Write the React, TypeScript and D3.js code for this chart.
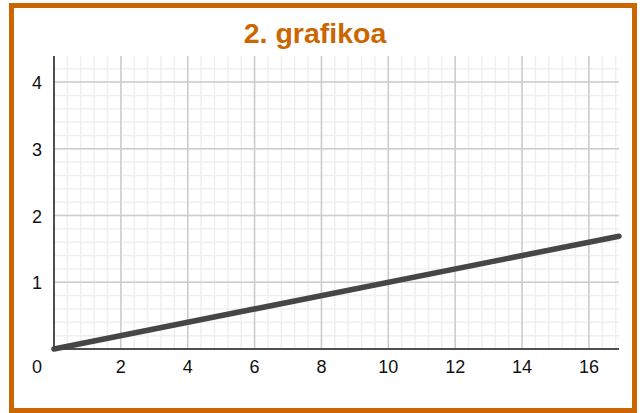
import * as d3 from "d3";
import type { ReactElement } from "react";

const W = 642;
const H = 413;

const title = "2. grafikoa";
const xTicks = [2, 4, 6, 8, 10, 12, 14, 16];
const yTicks = [1, 2, 3, 4];
const lineX = [0, 16.9];
const lineY = [0, 1.69];

const M = { left: 54, right: 619, top: 56, bottom: 349 };

export default function App(): ReactElement {
  const x = d3.scaleLinear().domain([0, 16.9]).range([M.left, M.right]);
  const y = d3.scaleLinear().domain([0, 4.39]).range([M.bottom, M.top]);

  const minorX = d3.range(0, 16.9, 0.4);
  const minorY = d3.range(0, 4.39, 0.2);
  const majorX = d3.range(0, 16.9, 2);
  const majorY = d3.range(0, 4.39, 1);

  const pts: Array<[number, number]> = lineX.map((v, i) => [v, lineY[i]]);
  const path = d3
    .line<[number, number]>()
    .x((d) => x(d[0]))
    .y((d) => y(d[1]))(pts);

  const font = "Arial, 'Liberation Sans', sans-serif";

  return (
    <svg
      width={W}
      height={H}
      style={{ position: "absolute", left: 0, top: 0, background: "#fff" }}
    >
      <rect x={11.5} y={5.5} width={623} height={405} fill="#fff" stroke="#cc6600" strokeWidth={5} />
      <text
        x={315}
        y={43}
        textAnchor="middle"
        fill="#cc6600"
        fontFamily={font}
        fontWeight="bold"
        fontSize={28.5}
      >
        {title}
      </text>

      <g>
        {minorX.map((v) => (
          <line key={`mx${v}`} x1={x(v)} x2={x(v)} y1={M.top} y2={M.bottom} stroke="#efefef" strokeWidth={1.5} />
        ))}
        {minorY.map((v) => (
          <line key={`my${v}`} x1={M.left} x2={M.right} y1={y(v)} y2={y(v)} stroke="#efefef" strokeWidth={1.5} />
        ))}
        {majorX.map((v) => (
          <line key={`Mx${v}`} x1={x(v)} x2={x(v)} y1={M.top} y2={M.bottom} stroke="#cccccc" strokeWidth={1.5} />
        ))}
        {majorY.map((v) => (
          <line key={`My${v}`} x1={M.left} x2={M.right} y1={y(v)} y2={y(v)} stroke="#cccccc" strokeWidth={1.5} />
        ))}
      </g>

      <line x1={M.left} x2={M.left} y1={M.top} y2={M.bottom} stroke="#222" strokeWidth={1.5} />
      <line x1={M.left} x2={M.right} y1={M.bottom} y2={M.bottom} stroke="#222" strokeWidth={1.5} />

      <path d={path ?? ""} fill="none" stroke="#464646" strokeWidth={5.5} strokeLinecap="round" />

      <g fontFamily={font} fontSize={18} fill="#111">
        <text x={37} y={y(0) + 24} textAnchor="middle">0</text>
        {xTicks.map((t) => (
          <text key={`xt${t}`} x={x(t)} y={y(0) + 24} textAnchor="middle">
            {t}
          </text>
        ))}
        {yTicks.map((t) => (
          <text key={`yt${t}`} x={42} y={y(t) + 7} textAnchor="end">
            {t}
          </text>
        ))}
      </g>
    </svg>
  );
}
